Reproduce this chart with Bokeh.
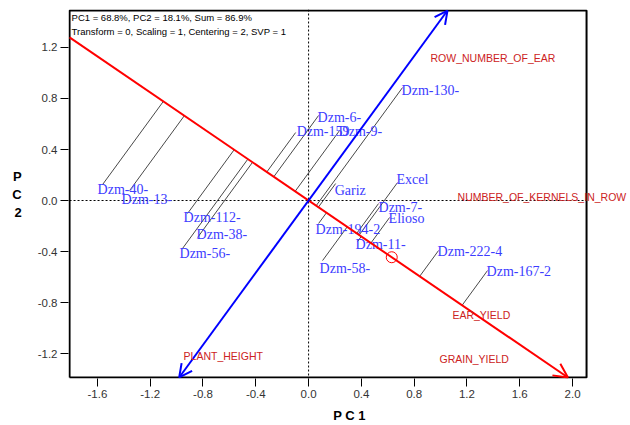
import numpy as np
from bokeh.plotting import figure
from bokeh.models import (Range1d, FixedTicker, PrintfTickFormatter, Span, Arrow,
                          OpenHead, LabelSet, ColumnDataSource)
from bokeh.core.properties import value
from bokeh.embed import file_html
from bokeh.resources import INLINE

# ---------------- data ----------------
genotypes = ["Dzm-40-", "Dzm-13-", "Dzm-112-", "Dzm-38-", "Dzm-56-", "Dzm-6-",
             "Dzm-159", "Dzm-9-", "Dzm-130-", "Gariz", "Excel", "Dzm-7-",
             "Elioso", "Dzm-194-2", "Dzm-11-", "Dzm-58-", "Dzm-222-4", "Dzm-167-2"]
g_pc1 = [-1.561, -1.356, -0.917, -0.841, -0.955, 0.076,
         -0.098, 0.235, 0.712, 0.205, 0.674, 0.530,
         0.614, 0.076, 0.371, 0.106, 0.985, 1.356]
g_pc2 = [0.125, 0.078, -0.102, -0.290, -0.376, 0.667,
         0.533, 0.549, 0.886, 0.133, 0.141, -0.024,
         -0.133, -0.180, -0.322, -0.471, -0.392, -0.549]

environments = ["ROW_NUMBER_OF_EAR", "NUMBER_OF_KERNELS_IN_ROW", "EAR_YIELD",
                "GRAIN_YIELD", "PLANT_HEIGHT"]
e_pc1 = [0.924, 1.129, 1.090, 0.992, -0.947]
e_pc2 = [1.114, 0.024, -0.900, -1.240, -1.216]

# average environment coordinate
aec_pc1 = [0.63]
aec_pc2 = [-0.445]

x_ticks = [-1.6, -1.2, -0.8, -0.4, 0.0, 0.4, 0.8, 1.2, 1.6, 2.0]
y_ticks = [-1.2, -0.8, -0.4, 0.0, 0.4, 0.8, 1.2]
x_lim = (-1.811, 2.106)      # boxed plot region
y_lim = (-1.388, 1.490)
x_view = (-1.819, 2.439)     # visible range (labels may run past the box)
y_view = (-1.396, 1.498)

header1 = "PC1 = 68.8%, PC2 = 18.1%, Sum = 86.9%"
header2 = "Transform = 0, Scaling = 1, Centering = 2, SVP = 1"

# label nudges (screen pixels) for genotype names
label_dx = [-5, -8, -4, -1, -3, -1, 1, -1, -1, -1, -1, 0, -1, -3, -2, -3, -1, -1]
label_dy = [5, 9, 4, -3, 5, 2, -1, 1, 3, 7, -3, 4, 1, 6, 3, 8, 1, 1]

# ---------------- derived geometry ----------------
u = np.array([aec_pc1[0], aec_pc2[0]])
u = u / np.linalg.norm(u)            # ATC abscissa direction
v = np.array([-u[1], u[0]])          # ATC ordinate direction (perpendicular)


def ray_to_box(d):
    ts = []
    for k, lim in ((0, x_lim), (1, y_lim)):
        if d[k] > 0:
            ts.append(lim[1] / d[k])
        elif d[k] < 0:
            ts.append(lim[0] / d[k])
    t = min(ts)
    return t * d


red_a = ray_to_box(-u)
red_b = ray_to_box(u)
blue_a = ray_to_box(-v)
blue_b = ray_to_box(v)

G = np.column_stack([g_pc1, g_pc2])
t_proj = G @ u
proj = np.outer(t_proj, u)

# ---------------- figure ----------------
p = figure(width=630, height=425, x_range=Range1d(*x_view), y_range=Range1d(*y_view),
           output_backend="svg", toolbar_location=None,
           min_border_left=68, min_border_right=0, min_border_top=9, min_border_bottom=47)
p.grid.visible = False
p.outline_line_color = None
p.background_fill_color = "white"
p.border_fill_color = "white"

# dashed zero axes
p.add_layout(Span(location=0, dimension="height", line_color="black",
                  line_width=1, line_dash="2 2"))
p.segment(x0=[x_lim[0]], y0=[0], x1=[x_lim[1]], y1=[0], line_color="black",
          line_width=1, line_dash="2 2")

# projection lines
p.segment(x0=g_pc1, y0=g_pc2, x1=proj[:, 0], y1=proj[:, 1],
          line_color="#333333", line_width=0.9)

# ATC abscissa (red) and ordinate (blue)
p.add_layout(Arrow(x_start=red_a[0], y_start=red_a[1], x_end=red_b[0], y_end=red_b[1],
                   line_color="#ff0000", line_width=2,
                   end=OpenHead(size=14, line_color="#ff0000", line_width=2)))
p.add_layout(Arrow(x_start=blue_a[0], y_start=blue_a[1], x_end=blue_b[0], y_end=blue_b[1],
                   line_color="#0000ff", line_width=2,
                   start=OpenHead(size=13, line_color="#0000ff", line_width=2),
                   end=OpenHead(size=13, line_color="#0000ff", line_width=2)))

# average environment circle
p.scatter(x=aec_pc1, y=aec_pc2, marker="circle", size=11, fill_color=None,
          line_color="#ff0000", line_width=1)

# plot box
bx = [x_lim[0], x_lim[1], x_lim[1], x_lim[0], x_lim[0]]
by = [y_lim[0], y_lim[0], y_lim[1], y_lim[1], y_lim[0]]
p.line(x=bx, y=by, line_color="black", line_width=2)

# genotype labels
g_src = ColumnDataSource(dict(x=g_pc1, y=g_pc2, text=genotypes, dx=label_dx, dy=label_dy))
p.text(x="x", y="y", text="text", source=g_src, text_font=value("Liberation Serif"),
       text_font_size="14px", text_color="#3c3cff", text_align="left",
       text_baseline="middle", x_offset="dx", y_offset="dy")

# environment labels
env_src = ColumnDataSource(dict(x=e_pc1, y=e_pc2, text=environments))
p.add_layout(LabelSet(x="x", y="y", text="text", source=env_src,
                      text_font=value("Liberation Sans"), text_font_size="10.5px",
                      text_color="#cc2222", text_align="left", text_baseline="middle"))

# header text
p.text(x=[x_lim[0]], y=[y_lim[1]], text=[header1], text_font=value("Liberation Sans"),
       text_font_size="9.5px", text_color="black", text_align="left",
       text_baseline="top", x_offset=2, y_offset=1)
p.text(x=[x_lim[0]], y=[y_lim[1]], text=[header2], text_font=value("Liberation Sans"),
       text_font_size="9.5px", text_color="black", text_align="left",
       text_baseline="top", x_offset=2, y_offset=15)

# axes
p.xaxis.ticker = FixedTicker(ticks=x_ticks)
p.yaxis.ticker = FixedTicker(ticks=y_ticks)
p.xaxis.formatter = PrintfTickFormatter(format="%.1f")
p.yaxis.formatter = PrintfTickFormatter(format="%.1f")
for ax in (p.xaxis[0], p.yaxis[0]):
    ax.axis_line_color = None
    ax.major_tick_out = 8
    ax.major_tick_in = 0
    ax.major_tick_line_color = "black"
    ax.minor_tick_line_color = None
    ax.major_label_text_font = "Liberation Sans"
    ax.major_label_text_font_size = "11.5px"
    ax.major_label_text_color = "#333333"
    ax.major_label_standoff = 3
    ax.axis_label_text_font = "Liberation Sans"
    ax.axis_label_text_font_size = "13px"
    ax.axis_label_text_font_style = "bold"
    ax.axis_label_text_color = "black"

p.xaxis.axis_label = "P C 1"
p.xaxis.axis_label_standoff = 7
p.yaxis.axis_label = "P\nC\n2"
p.yaxis.axis_label_orientation = "horizontal"
p.yaxis.axis_label_standoff = 13

open("out.html", "w").write(file_html(p, INLINE))
